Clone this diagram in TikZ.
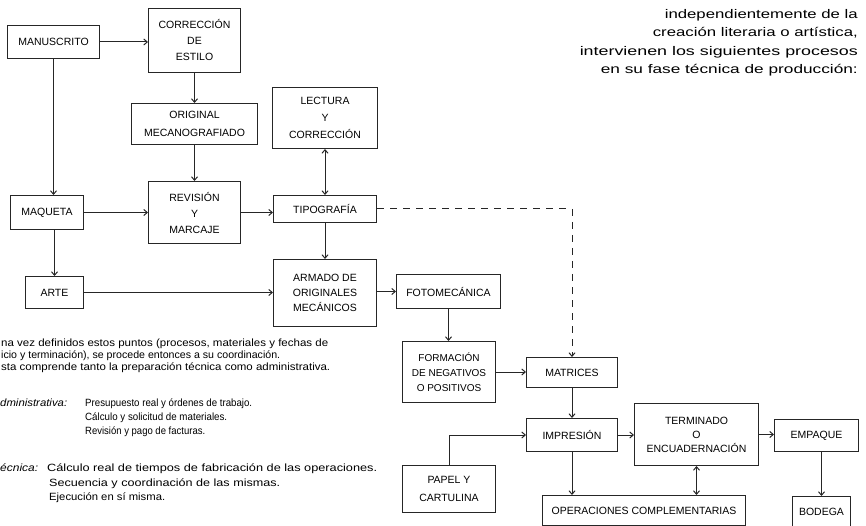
\documentclass[tikz,border=0pt]{standalone}
\usepackage{fontspec}
\setmainfont{Liberation Sans}
\usetikzlibrary{arrows.meta}
\newcommand{\wfit}[2]{\resizebox{#1}{\height}{#2}}
\begin{document}
\begin{tikzpicture}[x=1pt,y=-1pt,
  box/.style={draw=black!85, line width=1pt, inner sep=0pt, align=center, anchor=north west, font=\fontsize{10.5}{16}\selectfont},
  arr/.style={draw=black!85, line width=1pt, -{Straight Barb[length=3.5pt,width=6pt]}},
  darr/.style={draw=black!85, line width=1pt, {Straight Barb[length=3.5pt,width=6pt]}-{Straight Barb[length=3.5pt,width=6pt]}},
  dashline/.style={draw=black!85, line width=1pt, dash pattern=on 7pt off 6pt, -{Straight Barb[length=3.5pt,width=6pt]}},
  body/.style={anchor=base west, inner sep=0pt, font=\fontsize{10.5}{12}\selectfont},
  head/.style={anchor=base east, inner sep=0pt, font=\fontsize{12.5}{14}\selectfont}]
\useasboundingbox (0,0) rectangle (866,526);

% boxes
\node[box, minimum width=92pt, minimum height=33pt] (manu) at (7,25) {MANUSCRITO};
\node[box, minimum width=92pt, minimum height=64pt] (corr) at (148,8) {CORRECCIÓN\\DE\\ESTILO};
\node[box, minimum width=126pt, minimum height=41pt, font=\fontsize{10.5}{18}\selectfont] (orig) at (131,103) {ORIGINAL\\MECANOGRAFIADO};
\node[box, minimum width=105pt, minimum height=61pt, font=\fontsize{10.5}{17}\selectfont] (lect) at (272,87) {LECTURA\\Y\\CORRECCIÓN};
\node[box, minimum width=73pt, minimum height=34pt] (maq) at (10,195) {MAQUETA};
\node[box, minimum width=92pt, minimum height=62pt] (rev) at (148,181) {REVISIÓN\\Y\\MARCAJE};
\node[box, minimum width=103pt, minimum height=27pt] (tipo) at (273,195) {TIPOGRAFÍA};
\node[box, minimum width=58pt, minimum height=32pt] (arte) at (25,276) {ARTE};
\node[box, minimum width=103pt, minimum height=67pt, font=\fontsize{10.5}{15}\selectfont] (arm) at (273,259) {ARMADO DE\\ORIGINALES\\MECÁNICOS};
\node[box, minimum width=104pt, minimum height=34pt] (foto) at (396,274) {FOTOMECÁNICA};
\node[box, minimum width=93pt, minimum height=61pt, font=\fontsize{10}{15}\selectfont] (form) at (402,341) {FORMACIÓN\\DE NEGATIVOS\\O POSITIVOS};
\node[box, minimum width=91pt, minimum height=30pt] (mat) at (526,357) {MATRICES};
\node[box, minimum width=91pt, minimum height=33pt] (imp) at (526,418) {IMPRESIÓN};
\node[box, minimum width=93pt, minimum height=47pt, font=\fontsize{10.5}{18}\selectfont] (papel) at (402,465) {PAPEL Y\\CARTULINA};
\node[box, minimum width=203pt, minimum height=30pt] (ops) at (542,495) {OPERACIONES COMPLEMENTARIAS};
\node[box, minimum width=124pt, minimum height=62pt, font=\fontsize{10.5}{14}\selectfont] (term) at (634,403) {TERMINADO\\O\\ENCUADERNACIÓN};
\node[box, minimum width=84pt, minimum height=32pt] (emp) at (774,419) {EMPAQUE};
\node[box, minimum width=58pt, minimum height=30pt] (bod) at (792,496) {BODEGA};

% connectors
\draw[arr] (manu.east) -- (manu.east -| corr.west);
\draw[arr] (manu.south) -- (manu.south |- maq.north);
\draw[arr] (corr.south) -- (orig.north);
\draw[arr] (orig.south) -- (rev.north);
\draw[darr] (lect.south) -- (tipo.north);
\draw[arr] (maq.east) -- (maq.east -| rev.west);
\draw[arr] (rev.east) -- (rev.east -| tipo.west);
\draw[arr] (arte.north |- maq.south) -- (arte.north);
\draw[arr] (arte.east) -- (arte.east -| arm.west);
\draw[arr] (tipo.south) -- (arm.north);
\draw[arr] (foto.west -| arm.east) -- (foto.west);
\draw[arr] (foto.south) -- (form.north -| foto.south);
\draw[arr] (form.east) -- (form.east -| mat.west);
\draw[dashline] (tipo.east) -| (mat.north);
\draw[arr] (mat.south) -- (imp.north);
\draw[arr] (papel.north) |- (imp.west);
\draw[arr] (imp.south) -- (imp.south |- ops.north);
\draw[arr] (imp.east) -- (imp.east -| term.west);
\draw[darr] (term.south) -- (term.south |- ops.north);
\draw[arr] (term.east) -- (term.east -| emp.west);
\draw[arr] (bod.north |- emp.south) -- (bod.north);

% top-right text
\node[head] (h1) at (858,19) {\wfit{193pt}{independientemente de la}};
\node[head] (h2) at (858,37) {\wfit{205pt}{creación literaria o artística,}};
\node[head] (h3) at (858,56) {\wfit{278pt}{intervienen los siguientes procesos}};
\node[head] (h4) at (858,74) {\wfit{257pt}{en su fase técnica de producción:}};

% bottom-left text
\node[body] (b1) at (1,346) {\wfit{327pt}{na vez definidos estos puntos (procesos, materiales y fechas de}};
\node[body] (b2) at (1,358) {\wfit{279pt}{icio y terminación), se procede entonces a su coordinación.}};
\node[body] (b3) at (1,370) {\wfit{329pt}{sta comprende tanto la preparación técnica como administrativa.}};
\node[body] (a0) at (0,406) {\wfit{67pt}{\itshape dministrativa:}};
\node[body] (a1) at (85,406) {\wfit{167pt}{Presupuesto real y órdenes de trabajo.}};
\node[body] (a2) at (85,420) {\wfit{142pt}{Cálculo y solicitud de materiales.}};
\node[body] (a3) at (85,434) {\wfit{120pt}{Revisión y pago de facturas.}};
\node[body] (c0) at (0,471) {\wfit{38pt}{\itshape écnica:}};
\node[body] (c1) at (47,471) {\wfit{330pt}{Cálculo real de tiempos de fabricación de las operaciones.}};
\node[body] (c2) at (49,486) {\wfit{231pt}{Secuencia y coordinación de las mismas.}};
\node[body] (c3) at (49,500) {\wfit{116pt}{Ejecución en sí misma.}};
\end{tikzpicture}
\end{document}
